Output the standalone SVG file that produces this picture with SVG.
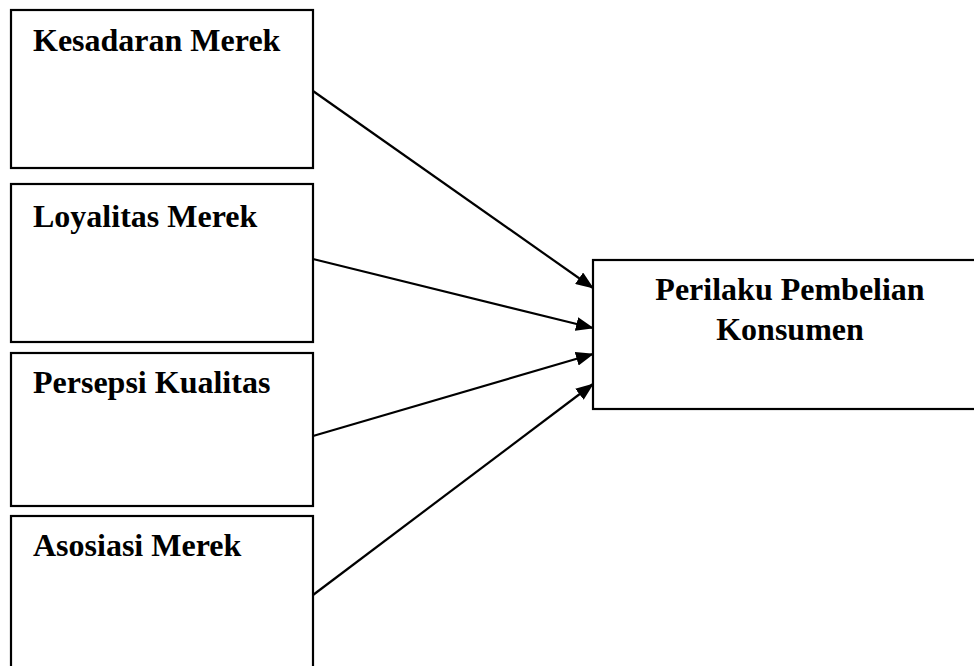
<svg xmlns="http://www.w3.org/2000/svg" width="974" height="666" viewBox="0 0 974 666">
<style>
.box{fill:#fff;stroke:#000;stroke-width:2.2}
.lbl{font-family:"Liberation Serif","Times New Roman",serif;font-weight:bold;font-size:32px;fill:#000}
.conn{stroke:#000;stroke-width:2.2;fill:none;marker-end:url(#ah)}
</style>
<defs>
<marker id="ah" markerWidth="18" markerHeight="14" refX="17" refY="7" orient="auto" markerUnits="userSpaceOnUse">
<path d="M0,0 L18,7 L0,14 Z" fill="#000"/>
</marker>
</defs>
<rect width="974" height="666" fill="#fff"/>
<g id="kesadaran">
<rect class="box" x="11" y="10" width="302" height="158"/>
<text class="lbl" x="33" y="51">Kesadaran Merek</text>
</g>
<g id="loyalitas">
<rect class="box" x="11" y="184" width="302" height="158"/>
<text class="lbl" x="33" y="227">Loyalitas Merek</text>
</g>
<g id="persepsi">
<rect class="box" x="11" y="353" width="302" height="153"/>
<text class="lbl" x="33" y="393">Persepsi Kualitas</text>
</g>
<g id="asosiasi">
<rect class="box" x="11" y="516" width="302" height="170"/>
<text class="lbl" x="33" y="556">Asosiasi Merek</text>
</g>
<g id="perilaku">
<rect class="box" x="593" y="260" width="400" height="149"/>
<text class="lbl" x="790" y="300" text-anchor="middle">Perilaku Pembelian</text>
<text class="lbl" x="790" y="340" text-anchor="middle">Konsumen</text>
</g>
<g id="connectors">
<line class="conn" x1="313" y1="91" x2="593" y2="288"/>
<line class="conn" x1="313" y1="259" x2="593" y2="328"/>
<line class="conn" x1="313" y1="436" x2="593" y2="354"/>
<line class="conn" x1="313" y1="595" x2="593" y2="384"/>
</g>
</svg>
